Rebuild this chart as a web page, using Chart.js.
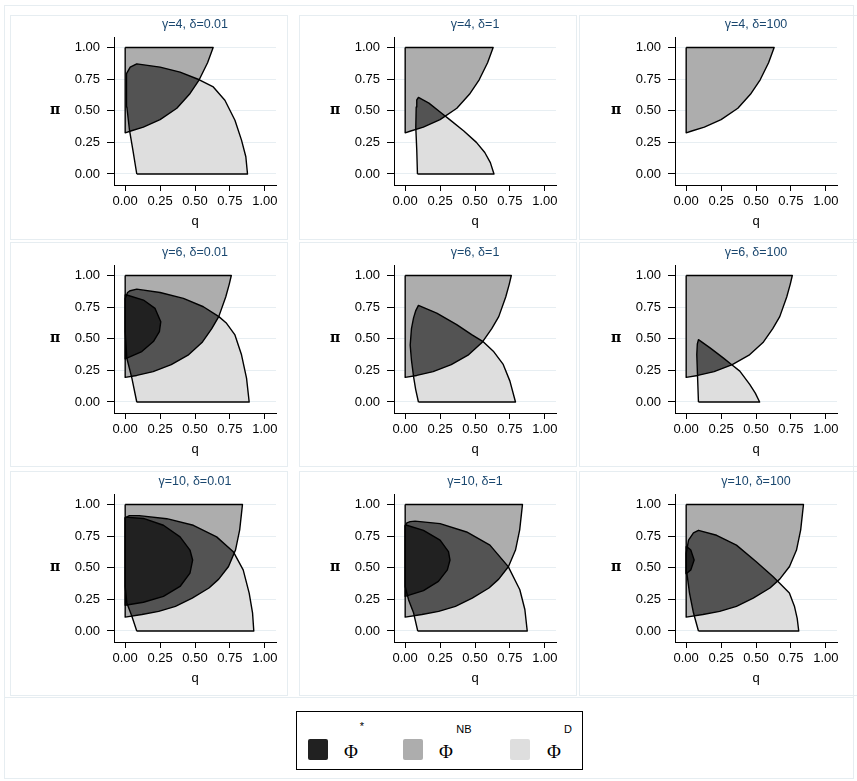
<!DOCTYPE html>
<html>
<head>
<meta charset="utf-8">
<script src="https://cdn.jsdelivr.net/npm/chart.js"></script>
<style>
  body { margin: 0; width: 857px; height: 781px; position: relative; overflow: hidden; background: #fff;
         font-family: "Liberation Sans", Arial, sans-serif; }
  .box { position: absolute; border: 1px solid #e6edf1; box-sizing: border-box; }
  canvas { position: absolute; }
  #legend { position: absolute; left: 296px; top: 711px; width: 287px; height: 59px; border: 1px solid #000; box-sizing: border-box; background: #fff; }
  #legend .sw { position: absolute; top: 27px; width: 20px; height: 21px; border-radius: 2px; }
  #legend .phi { position: absolute; top: 40px; transform: translate(-50%, -50%); font: 19px "Liberation Serif", serif; color: #000; }
  #legend .sup { position: absolute; transform: translate(-50%, -50%); font: 11px "Liberation Sans", sans-serif; color: #000; }
</style>
</head>
<body>
<div class="box" style="left:4px;top:5px;width:850px;height:774px"></div>
<div class="box" style="left:4px;top:697px;width:850px;height:82px"></div>
<div id="panels"></div>
<div id="legend"></div>
<script>
// facets
const gammas = [4, 6, 10];
const deltas = ['0.01', '1', '100'];
const tickVals = [0, 0.25, 0.5, 0.75, 1];
const tickLabels = ['0.00', '0.25', '0.50', '0.75', '1.00'];

// Φ^NB region, one per γ (same for every δ)
const nbG4 = [[0,1],[0.63,1],[0.59,0.88],[0.53,0.745],[0.46,0.63],[0.37,0.52],[0.25,0.43],[0.13,0.37],[0.04,0.34],[0,0.325]];
const nbG6 = [[0,1],[0.76,1],[0.745,0.93],[0.72,0.83],[0.67,0.675],[0.62,0.58],[0.55,0.47],[0.45,0.37],[0.33,0.295],[0.2,0.24],[0.083,0.21],[0,0.195]];
const nbG10 = [[0,1],[0.84,1],[0.82,0.8],[0.79,0.64],[0.74,0.51],[0.67,0.41],[0.6,0.34],[0.48,0.26],[0.36,0.195],[0.24,0.155],[0.12,0.13],[0,0.11]];

// Φ^D region, per γ and δ
const dG4a = [[0.083,0],[0.055,0.19],[0.031,0.346],[0.012,0.53],[0.007,0.714],[0.012,0.793],[0.036,0.845],[0.083,0.871],[0.25,0.845],[0.393,0.806],[0.531,0.745],[0.631,0.688],[0.714,0.583],[0.786,0.425],[0.833,0.268],[0.864,0.136],[0.876,0]];
const dG4b = [[0.088,0],[0.083,0.19],[0.076,0.37],[0.079,0.53],[0.083,0.585],[0.095,0.605],[0.17,0.56],[0.25,0.49],[0.33,0.42],[0.42,0.34],[0.51,0.25],[0.57,0.17],[0.61,0.09],[0.636,0]];
const dG4c = null;
const dG6a = [[0.083,0],[0.048,0.189],[0.012,0.346],[0,0.556],[0,0.819],[0.017,0.866],[0.036,0.88],[0.083,0.892],[0.25,0.866],[0.417,0.819],[0.56,0.753],[0.671,0.675],[0.726,0.622],[0.786,0.53],[0.833,0.373],[0.869,0.189],[0.888,0]];
const dG6b = [[0.095,0],[0.075,0.1],[0.06,0.2],[0.045,0.33],[0.036,0.45],[0.045,0.58],[0.06,0.665],[0.075,0.72],[0.095,0.764],[0.226,0.703],[0.369,0.612],[0.476,0.533],[0.555,0.48],[0.631,0.402],[0.702,0.297],[0.75,0.165],[0.79,0]];
const dG6c = [[0.088,0],[0.081,0.218],[0.076,0.375],[0.08,0.46],[0.088,0.493],[0.171,0.428],[0.265,0.349],[0.32,0.3],[0.384,0.244],[0.455,0.139],[0.495,0.07],[0.526,0]];
const dG10a = [[0.083,0],[0.048,0.117],[0.012,0.222],[0,0.352],[0,0.895],[0.03,0.912],[0.1,0.912],[0.298,0.888],[0.488,0.836],[0.655,0.744],[0.774,0.627],[0.845,0.483],[0.888,0.3],[0.912,0.144],[0.921,0]];
const dG10b = [[0.09,0],[0.06,0.144],[0.024,0.248],[0,0.352],[0,0.83],[0.012,0.855],[0.036,0.865],[0.071,0.869],[0.25,0.849],[0.44,0.783],[0.607,0.679],[0.738,0.509],[0.821,0.326],[0.857,0.17],[0.874,0]];
const dG10c = [[0.088,0],[0.052,0.144],[0.024,0.3],[0.005,0.457],[0,0.614],[0.017,0.718],[0.052,0.775],[0.088,0.796],[0.218,0.757],[0.36,0.679],[0.502,0.548],[0.621,0.431],[0.668,0.379],[0.739,0.3],[0.775,0.196],[0.795,0.1],[0.806,0]];

// Φ* region, where it exists
const starG6a = [[0,0.85],[0.131,0.806],[0.214,0.74],[0.255,0.635],[0.245,0.556],[0.202,0.478],[0.119,0.399],[0,0.341]];
const starG10a = [[0,0.9],[0.131,0.89],[0.274,0.836],[0.393,0.744],[0.464,0.64],[0.483,0.561],[0.464,0.457],[0.393,0.352],[0.274,0.274],[0.131,0.227],[0,0.204]];
const starG10b = [[0,0.84],[0.131,0.796],[0.25,0.718],[0.31,0.627],[0.321,0.561],[0.302,0.483],[0.238,0.392],[0.131,0.319],[0,0.274]];
const starG10c = [[0,0.671],[0.033,0.64],[0.057,0.561],[0.033,0.483],[0,0.452]];

const nbByGamma = [nbG4, nbG6, nbG10];
const dByPanel = [[dG4a, dG4b, dG4c], [dG6a, dG6b, dG6c], [dG10a, dG10b, dG10c]];
const starByPanel = [[null, null, null], [starG6a, null, null], [starG10a, starG10b, starG10c]];

const COL_STAR = '#212121', COL_NB = '#adadad', COL_D = '#dedede', COL_BOTH = '#535353';
const FONT = '"Liberation Sans", Arial, sans-serif';

// fills every region under the outlines; NB∩D gets its own shade
const regionFill = {
  id: 'regionFill',
  beforeDatasetsDraw(chart) {
    const ctx = chart.ctx;
    const paths = {};
    chart.data.datasets.forEach((ds, i) => {
      const p = new Path2D();
      chart.getDatasetMeta(i).dataset.path(p);
      p.closePath();
      paths[ds.role] = p;
    });
    ctx.save();
    if (paths.nb) { ctx.fillStyle = COL_NB; ctx.fill(paths.nb); }
    if (paths.d) {
      ctx.fillStyle = COL_D; ctx.fill(paths.d);
      ctx.save(); ctx.clip(paths.nb); ctx.fillStyle = COL_BOTH; ctx.fill(paths.d); ctx.restore();
    }
    if (paths.star) { ctx.fillStyle = COL_STAR; ctx.fill(paths.star); }
    ctx.restore();
  }
};

// upright π as y title
const piLabel = {
  id: 'piLabel',
  afterDraw(chart) {
    const ctx = chart.ctx;
    ctx.save();
    ctx.font = 'bold 14px "DejaVu Serif", serif';
    ctx.fillStyle = '#000';
    ctx.textAlign = 'center';
    ctx.textBaseline = 'middle';
    ctx.fillText('π', chart.chartArea.left - 59, chart.scales.y.getPixelForValue(0.5));
    ctx.restore();
  }
};

const toPts = arr => arr.concat([arr[0]]).map(p => ({x: p[0], y: p[1]}));
const region = (arr, role) => ({
  data: toPts(arr), role, showLine: true, borderColor: '#000', borderWidth: 1.4,
  borderJoinStyle: 'round', pointRadius: 0, pointHoverRadius: 0, tension: 0
});

const colLeft = [10, 290, 571];
const rowTop = [15, 243, 472];
const boxLeft = [10, 299, 579], boxTop = [15, 242, 471];
const holder = document.getElementById('panels');

gammas.forEach((g, r) => {
  deltas.forEach((d, c) => {
    const b = document.createElement('div');
    b.className = 'box';
    b.style.cssText = `left:${boxLeft[c]}px;top:${boxTop[r]}px;width:${c === 2 ? 282 : 278}px;height:225px`;
    holder.appendChild(b);

    const cv = document.createElement('canvas');
    cv.width = 278; cv.height = 224;
    cv.style.left = colLeft[c] + 'px';
    cv.style.top = rowTop[r] + 'px';
    holder.appendChild(cv);

    const datasets = [region(nbByGamma[r], 'nb')];
    if (dByPanel[r][c]) datasets.push(region(dByPanel[r][c], 'd'));
    if (starByPanel[r][c]) datasets.push(region(starByPanel[r][c], 'star'));

    new Chart(cv, {
      type: 'scatter',
      data: { datasets },
      plugins: [regionFill, piLabel],
      options: {
        responsive: false,
        animation: false,
        events: [],
        layout: { padding: { left: 0, right: 12, top: 0, bottom: 0 } },
        plugins: {
          legend: { display: false },
          tooltip: { enabled: false },
          title: {
            display: true, text: `γ=${g}, δ=${d}`, color: '#1a476f', fullSize: false,
            font: { size: 12.5, family: FONT, weight: 'normal' },
            padding: { top: 2.5, bottom: 4.9 }
          }
        },
        scales: {
          x: {
            type: 'linear', min: -0.08, max: 1.08, bounds: 'data',
            afterBuildTicks: s => { s.ticks = tickVals.map(v => ({ value: v })); },
            afterFit: s => { s.height = 54; s.paddingLeft = 0; s.paddingRight = 0; },
            ticks: { callback: (v, i) => tickLabels[i], color: '#000', padding: 3, maxRotation: 0, autoSkip: false,
                     font: { size: 13, family: FONT } },
            grid: { drawOnChartArea: false, tickLength: 6, tickColor: '#000', tickWidth: 1 },
            border: { color: '#000', width: 1 },
            title: { display: true, text: 'q', color: '#000', font: { size: 13, family: FONT },
                     padding: { top: 0, bottom: 10 } }
          },
          y: {
            type: 'linear', min: -0.087, max: 1.08, bounds: 'data',
            afterBuildTicks: s => { s.ticks = tickVals.map(v => ({ value: v })); },
            afterFit: s => { s.width = 104; s.paddingTop = 0; s.paddingBottom = 0; },
            ticks: { callback: (v, i) => tickLabels[i], color: '#000', padding: 7, autoSkip: false,
                     font: { size: 13, family: FONT } },
            grid: { color: '#e7eef2', tickColor: '#000', tickLength: 7, lineWidth: 1 },
            border: { color: '#000', width: 1 }
          }
        }
      }
    });
  });
});

// legend
const legendSup = ['*', 'NB', 'D'];
const legendCol = [COL_STAR, COL_NB, COL_D];
const swLeft = [11, 106, 213], phiX = [54, 149, 257], supX = [65, 167, 271], supY = [14, 17, 17];
const lg = document.getElementById('legend');
legendSup.forEach((s, i) => {
  lg.insertAdjacentHTML('beforeend',
    `<div class="sw" style="left:${swLeft[i]}px;background:${legendCol[i]}"></div>` +
    `<span class="phi" style="left:${phiX[i]}px">Φ</span>` +
    `<span class="sup" style="left:${supX[i]}px;top:${supY[i]}px">${s}</span>`);
});
</script>
</body>
</html>
